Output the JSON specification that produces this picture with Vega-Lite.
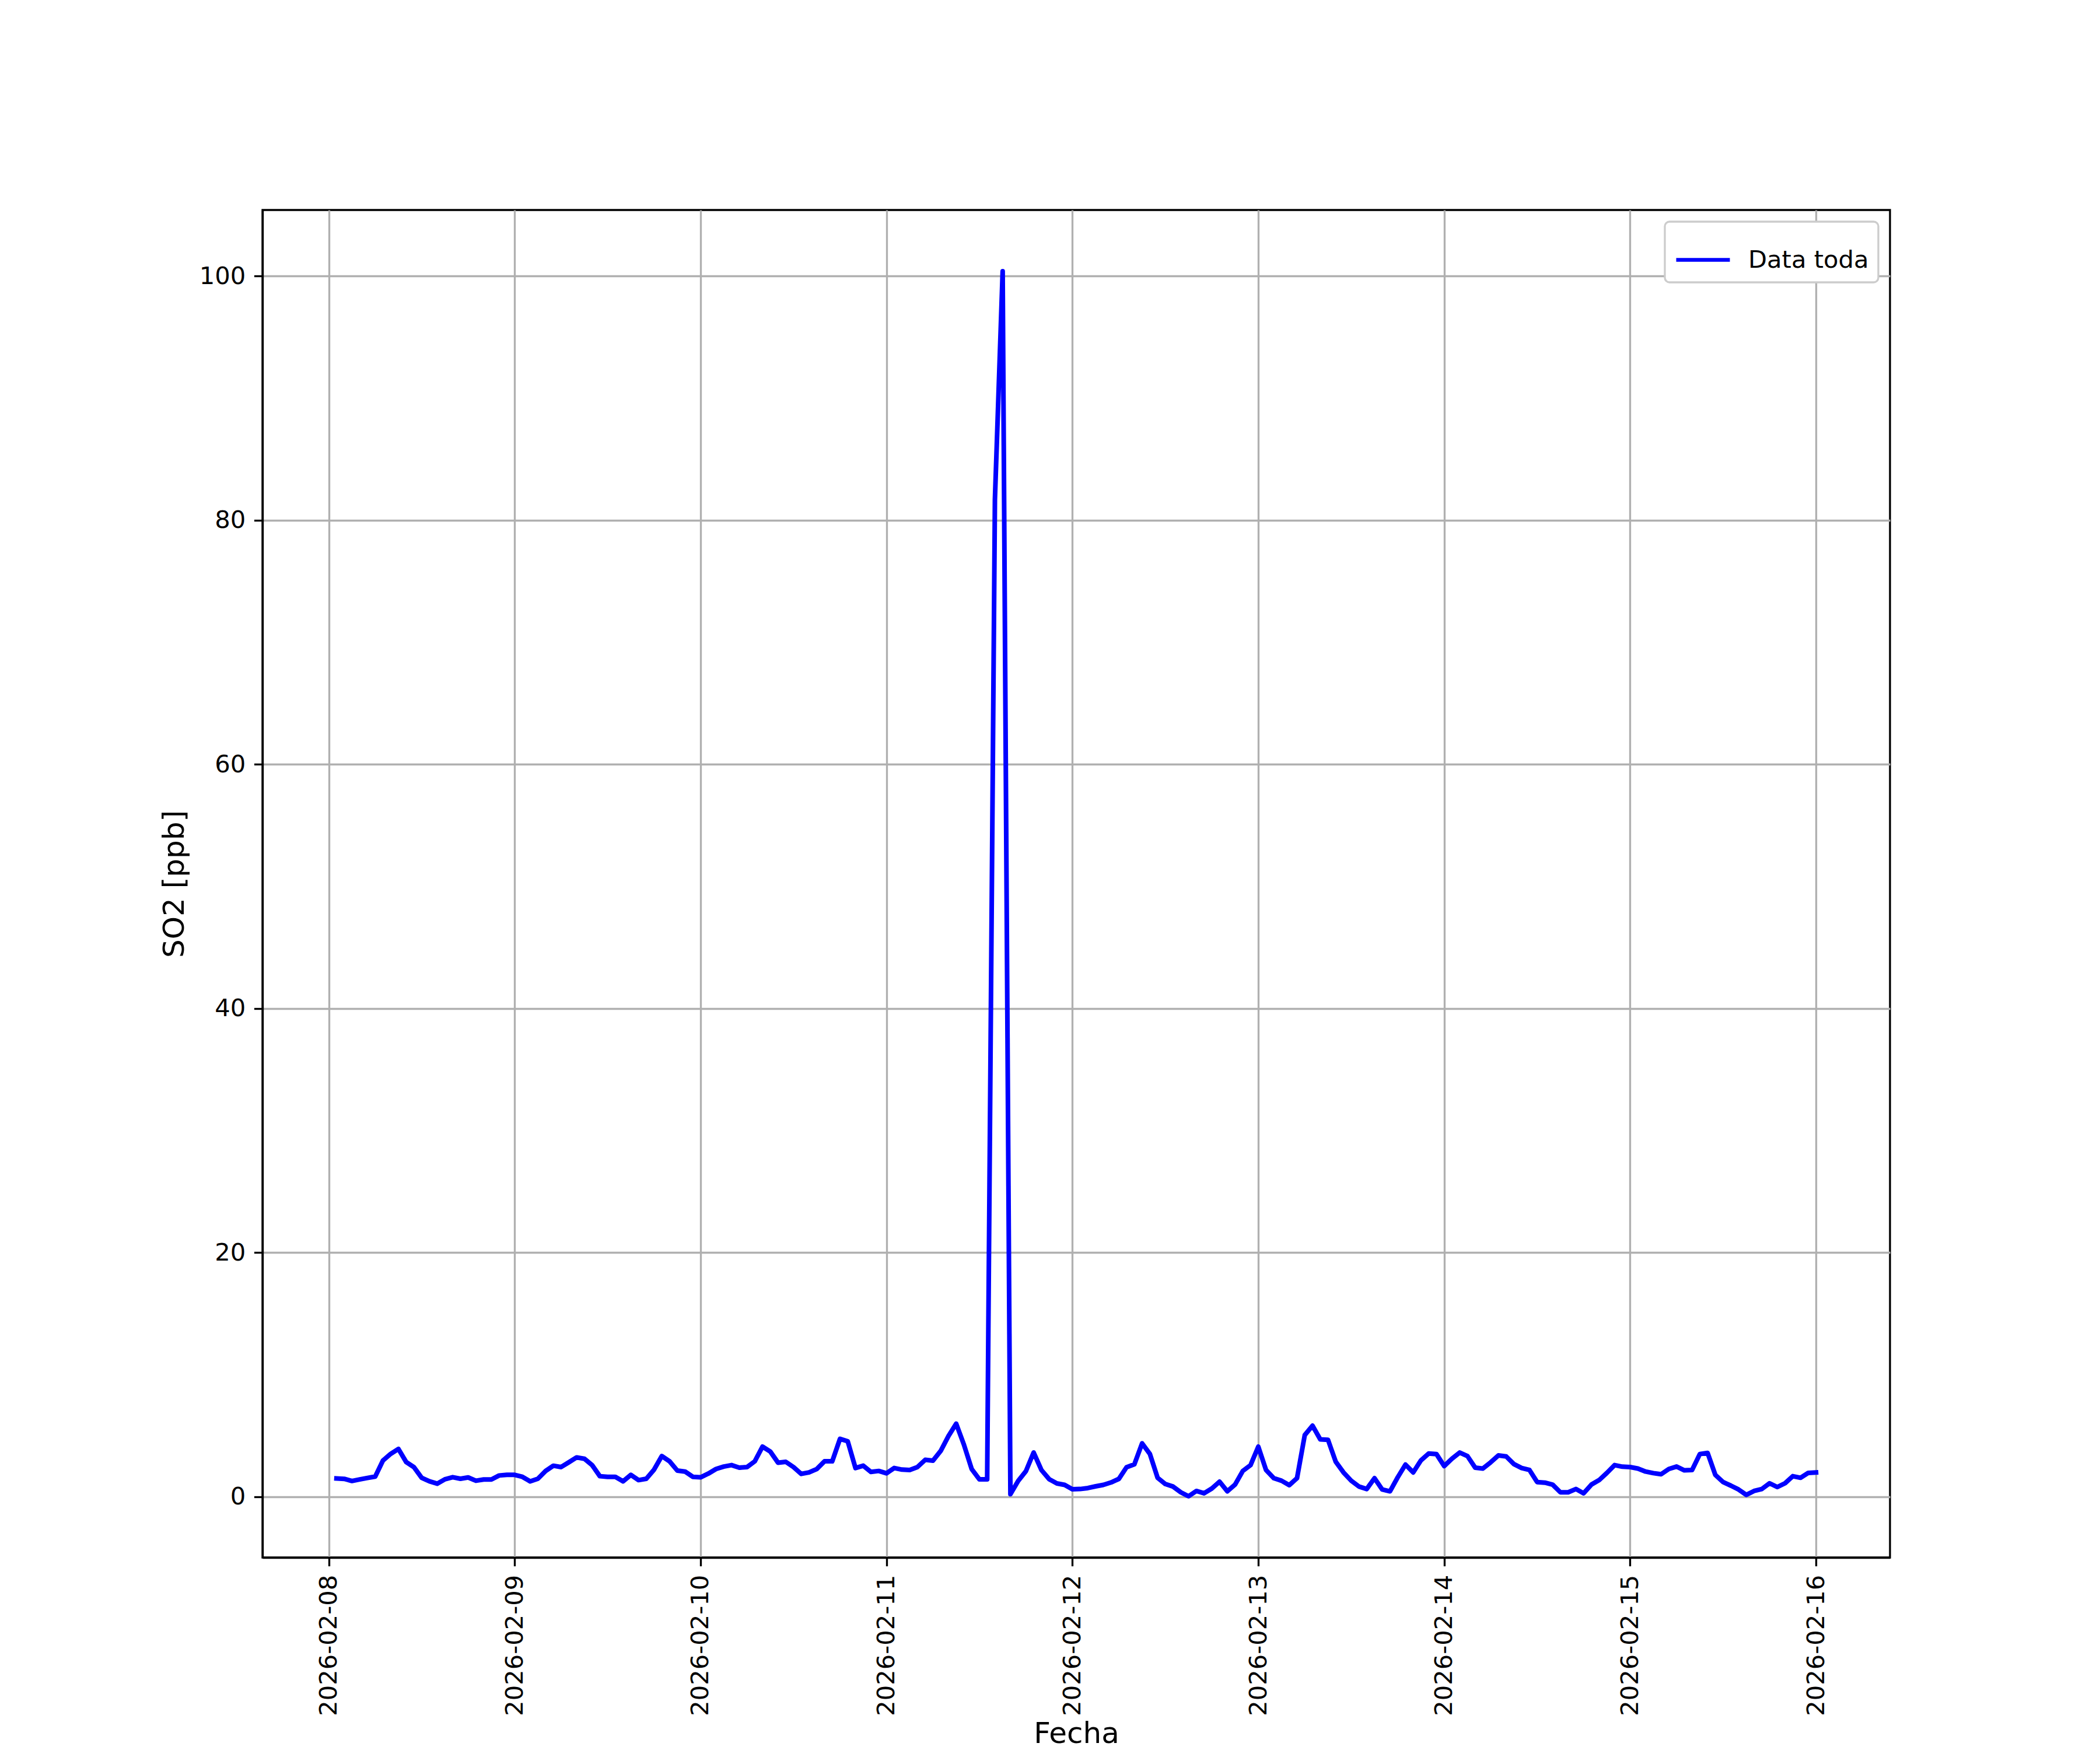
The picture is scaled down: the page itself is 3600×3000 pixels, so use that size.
{
  "$schema": "https://vega.github.io/schema/vega-lite/v6.json",
  "width": 2790,
  "height": 2310,
  "autosize": {"type": "none"},
  "padding": {"left": 450, "top": 360, "right": 360, "bottom": 330},
  "background": "white",
  "config": {
    "font": "DejaVu Sans",
    "view": {"stroke": "black", "strokeWidth": 3.33},
    "axis": {
      "labelFont": "DejaVu Sans", "labelFontSize": 41.67, "labelColor": "black", "labelLimit": 0,
      "titleFont": "DejaVu Sans", "titleFontSize": 50, "titleFontWeight": "normal", "titleColor": "black",
      "tickColor": "black", "tickWidth": 3.33, "tickSize": 14.6, "labelPadding": 14.6,
      "domainColor": "black", "domainWidth": 3.33,
      "gridColor": "#b0b0b0", "gridWidth": 3.33, "gridOpacity": 1,
      "titlePadding": 17
    },
    "legend": {"strokeWidth": 3.33, "labelLimit": 0}
  },
  "data": {"values": [
    {"t":"2026-02-08T01:00:00","v":1.51},{"t":"2026-02-08T02:00:00","v":1.47},{"t":"2026-02-08T03:00:00","v":1.3},{"t":"2026-02-08T04:00:00","v":1.43},{"t":"2026-02-08T05:00:00","v":1.55},{"t":"2026-02-08T06:00:00","v":1.66},{"t":"2026-02-08T07:00:00","v":2.97},{"t":"2026-02-08T08:00:00","v":3.52},{"t":"2026-02-08T09:00:00","v":3.92},{"t":"2026-02-08T10:00:00","v":2.85},{"t":"2026-02-08T11:00:00","v":2.43},{"t":"2026-02-08T12:00:00","v":1.56},{"t":"2026-02-08T13:00:00","v":1.27},{"t":"2026-02-08T14:00:00","v":1.08},{"t":"2026-02-08T15:00:00","v":1.44},{"t":"2026-02-08T16:00:00","v":1.61},{"t":"2026-02-08T17:00:00","v":1.48},{"t":"2026-02-08T18:00:00","v":1.59},{"t":"2026-02-08T19:00:00","v":1.32},{"t":"2026-02-08T20:00:00","v":1.42},{"t":"2026-02-08T21:00:00","v":1.42},{"t":"2026-02-08T22:00:00","v":1.75},{"t":"2026-02-08T23:00:00","v":1.8},
    {"t":"2026-02-09T00:00:00","v":1.8},{"t":"2026-02-09T01:00:00","v":1.64},{"t":"2026-02-09T02:00:00","v":1.27},{"t":"2026-02-09T03:00:00","v":1.48},{"t":"2026-02-09T04:00:00","v":2.12},{"t":"2026-02-09T05:00:00","v":2.55},{"t":"2026-02-09T06:00:00","v":2.44},{"t":"2026-02-09T07:00:00","v":2.83},{"t":"2026-02-09T08:00:00","v":3.23},{"t":"2026-02-09T09:00:00","v":3.12},{"t":"2026-02-09T10:00:00","v":2.6},{"t":"2026-02-09T11:00:00","v":1.69},{"t":"2026-02-09T12:00:00","v":1.64},{"t":"2026-02-09T13:00:00","v":1.64},{"t":"2026-02-09T14:00:00","v":1.27},{"t":"2026-02-09T15:00:00","v":1.8},{"t":"2026-02-09T16:00:00","v":1.37},{"t":"2026-02-09T17:00:00","v":1.48},{"t":"2026-02-09T18:00:00","v":2.23},{"t":"2026-02-09T19:00:00","v":3.34},{"t":"2026-02-09T20:00:00","v":2.91},{"t":"2026-02-09T21:00:00","v":2.15},{"t":"2026-02-09T22:00:00","v":2.07},{"t":"2026-02-09T23:00:00","v":1.64},
    {"t":"2026-02-10T00:00:00","v":1.6},{"t":"2026-02-10T01:00:00","v":1.9},{"t":"2026-02-10T02:00:00","v":2.28},{"t":"2026-02-10T03:00:00","v":2.48},{"t":"2026-02-10T04:00:00","v":2.6},{"t":"2026-02-10T05:00:00","v":2.39},{"t":"2026-02-10T06:00:00","v":2.44},{"t":"2026-02-10T07:00:00","v":2.91},{"t":"2026-02-10T08:00:00","v":4.11},{"t":"2026-02-10T09:00:00","v":3.71},{"t":"2026-02-10T10:00:00","v":2.8},{"t":"2026-02-10T11:00:00","v":2.87},{"t":"2026-02-10T12:00:00","v":2.44},{"t":"2026-02-10T13:00:00","v":1.88},{"t":"2026-02-10T14:00:00","v":2.0},{"t":"2026-02-10T15:00:00","v":2.28},{"t":"2026-02-10T16:00:00","v":2.91},{"t":"2026-02-10T17:00:00","v":2.91},{"t":"2026-02-10T18:00:00","v":4.75},{"t":"2026-02-10T19:00:00","v":4.55},{"t":"2026-02-10T20:00:00","v":2.36},{"t":"2026-02-10T21:00:00","v":2.55},{"t":"2026-02-10T22:00:00","v":2.04},{"t":"2026-02-10T23:00:00","v":2.12},
    {"t":"2026-02-11T00:00:00","v":1.93},{"t":"2026-02-11T01:00:00","v":2.36},{"t":"2026-02-11T02:00:00","v":2.23},{"t":"2026-02-11T03:00:00","v":2.2},{"t":"2026-02-11T04:00:00","v":2.44},{"t":"2026-02-11T05:00:00","v":3.03},{"t":"2026-02-11T06:00:00","v":2.96},{"t":"2026-02-11T07:00:00","v":3.76},{"t":"2026-02-11T08:00:00","v":4.98},{"t":"2026-02-11T09:00:00","v":5.99},{"t":"2026-02-11T10:00:00","v":4.27},{"t":"2026-02-11T11:00:00","v":2.28},{"t":"2026-02-11T12:00:00","v":1.43},{"t":"2026-02-11T13:00:00","v":1.43},{"t":"2026-02-11T14:00:00","v":81.7},{"t":"2026-02-11T15:00:00","v":100.4},{"t":"2026-02-11T16:00:00","v":0.22},{"t":"2026-02-11T17:00:00","v":1.3},{"t":"2026-02-11T18:00:00","v":2.1},{"t":"2026-02-11T19:00:00","v":3.63},{"t":"2026-02-11T20:00:00","v":2.2},{"t":"2026-02-11T21:00:00","v":1.45},{"t":"2026-02-11T22:00:00","v":1.1},{"t":"2026-02-11T23:00:00","v":0.98},
    {"t":"2026-02-12T00:00:00","v":0.62},{"t":"2026-02-12T01:00:00","v":0.64},{"t":"2026-02-12T02:00:00","v":0.72},{"t":"2026-02-12T03:00:00","v":0.86},{"t":"2026-02-12T04:00:00","v":0.98},{"t":"2026-02-12T05:00:00","v":1.18},{"t":"2026-02-12T06:00:00","v":1.47},{"t":"2026-02-12T07:00:00","v":2.43},{"t":"2026-02-12T08:00:00","v":2.66},{"t":"2026-02-12T09:00:00","v":4.38},{"t":"2026-02-12T10:00:00","v":3.52},{"t":"2026-02-12T11:00:00","v":1.56},{"t":"2026-02-12T12:00:00","v":1.05},{"t":"2026-02-12T13:00:00","v":0.84},{"t":"2026-02-12T14:00:00","v":0.37},{"t":"2026-02-12T15:00:00","v":0.05},{"t":"2026-02-12T16:00:00","v":0.48},{"t":"2026-02-12T17:00:00","v":0.29},{"t":"2026-02-12T18:00:00","v":0.68},{"t":"2026-02-12T19:00:00","v":1.24},{"t":"2026-02-12T20:00:00","v":0.45},{"t":"2026-02-12T21:00:00","v":1.0},{"t":"2026-02-12T22:00:00","v":2.12},{"t":"2026-02-12T23:00:00","v":2.6},
    {"t":"2026-02-13T00:00:00","v":4.11},{"t":"2026-02-13T01:00:00","v":2.2},{"t":"2026-02-13T02:00:00","v":1.53},{"t":"2026-02-13T03:00:00","v":1.32},{"t":"2026-02-13T04:00:00","v":0.96},{"t":"2026-02-13T05:00:00","v":1.53},{"t":"2026-02-13T06:00:00","v":5.06},{"t":"2026-02-13T07:00:00","v":5.83},{"t":"2026-02-13T08:00:00","v":4.71},{"t":"2026-02-13T09:00:00","v":4.67},{"t":"2026-02-13T10:00:00","v":2.87},{"t":"2026-02-13T11:00:00","v":2.0},{"t":"2026-02-13T12:00:00","v":1.32},{"t":"2026-02-13T13:00:00","v":0.84},{"t":"2026-02-13T14:00:00","v":0.64},{"t":"2026-02-13T15:00:00","v":1.53},{"t":"2026-02-13T16:00:00","v":0.6},{"t":"2026-02-13T17:00:00","v":0.45},{"t":"2026-02-13T18:00:00","v":1.6},{"t":"2026-02-13T19:00:00","v":2.64},{"t":"2026-02-13T20:00:00","v":2.0},{"t":"2026-02-13T21:00:00","v":2.99},{"t":"2026-02-13T22:00:00","v":3.55},{"t":"2026-02-13T23:00:00","v":3.5},
    {"t":"2026-02-14T00:00:00","v":2.52},{"t":"2026-02-14T01:00:00","v":3.12},{"t":"2026-02-14T02:00:00","v":3.63},{"t":"2026-02-14T03:00:00","v":3.34},{"t":"2026-02-14T04:00:00","v":2.39},{"t":"2026-02-14T05:00:00","v":2.32},{"t":"2026-02-14T06:00:00","v":2.83},{"t":"2026-02-14T07:00:00","v":3.39},{"t":"2026-02-14T08:00:00","v":3.31},{"t":"2026-02-14T09:00:00","v":2.68},{"t":"2026-02-14T10:00:00","v":2.36},{"t":"2026-02-14T11:00:00","v":2.2},{"t":"2026-02-14T12:00:00","v":1.21},{"t":"2026-02-14T13:00:00","v":1.16},{"t":"2026-02-14T14:00:00","v":1.0},{"t":"2026-02-14T15:00:00","v":0.37},{"t":"2026-02-14T16:00:00","v":0.37},{"t":"2026-02-14T17:00:00","v":0.64},{"t":"2026-02-14T18:00:00","v":0.29},{"t":"2026-02-14T19:00:00","v":1.0},{"t":"2026-02-14T20:00:00","v":1.37},{"t":"2026-02-14T21:00:00","v":1.96},{"t":"2026-02-14T22:00:00","v":2.6},{"t":"2026-02-14T23:00:00","v":2.47},
    {"t":"2026-02-15T00:00:00","v":2.44},{"t":"2026-02-15T01:00:00","v":2.32},{"t":"2026-02-15T02:00:00","v":2.07},{"t":"2026-02-15T03:00:00","v":1.94},{"t":"2026-02-15T04:00:00","v":1.85},{"t":"2026-02-15T05:00:00","v":2.28},{"t":"2026-02-15T06:00:00","v":2.48},{"t":"2026-02-15T07:00:00","v":2.17},{"t":"2026-02-15T08:00:00","v":2.2},{"t":"2026-02-15T09:00:00","v":3.5},{"t":"2026-02-15T10:00:00","v":3.6},{"t":"2026-02-15T11:00:00","v":1.8},{"t":"2026-02-15T12:00:00","v":1.21},{"t":"2026-02-15T13:00:00","v":0.92},{"t":"2026-02-15T14:00:00","v":0.6},{"t":"2026-02-15T15:00:00","v":0.16},{"t":"2026-02-15T16:00:00","v":0.48},{"t":"2026-02-15T17:00:00","v":0.64},{"t":"2026-02-15T18:00:00","v":1.11},{"t":"2026-02-15T19:00:00","v":0.8},{"t":"2026-02-15T20:00:00","v":1.11},{"t":"2026-02-15T21:00:00","v":1.69},{"t":"2026-02-15T22:00:00","v":1.56},{"t":"2026-02-15T23:00:00","v":1.96},
    {"t":"2026-02-16T00:00:00","v":2.0}
  ]},
  "mark": {"type": "line", "strokeWidth": 8, "strokeCap": "square", "strokeJoin": "round"},
  "encoding": {
    "x": {
      "field": "t", "type": "temporal", "title": "Fecha",
      "scale": {"domain": [{"year": 2026, "month": 2, "date": 7, "hours": 15, "minutes": 27}, {"year": 2026, "month": 2, "date": 16, "hours": 9, "minutes": 33}], "nice": false},
      "axis": {
        "format": "%Y-%m-%d", "labelAngle": -90, "labelOverlap": false, "labelFlush": false, "labelLimit": 0,
        "titleY": 317, "titleBaseline": "alphabetic",
        "values": [
          {"year": 2026, "month": 2, "date": 8}, {"year": 2026, "month": 2, "date": 9}, {"year": 2026, "month": 2, "date": 10},
          {"year": 2026, "month": 2, "date": 11}, {"year": 2026, "month": 2, "date": 12}, {"year": 2026, "month": 2, "date": 13},
          {"year": 2026, "month": 2, "date": 14}, {"year": 2026, "month": 2, "date": 15}, {"year": 2026, "month": 2, "date": 16}
        ]
      }
    },
    "y": {
      "field": "v", "type": "quantitative", "title": "SO2 [ppb]",
      "scale": {"domain": [-4.97, 105.42], "nice": false, "zero": false},
      "axis": {"values": [0, 20, 40, 60, 80, 100], "format": "d", "labelFlush": false}
    },
    "color": {
      "datum": "Data toda",
      "scale": {"range": ["#0000ff"]},
      "legend": {
        "title": null, "orient": "top-right", "offset": 20, "labelLimit": 0,
        "symbolType": "stroke", "symbolSize": 8464, "symbolStrokeWidth": 6.5,
        "labelFont": "DejaVu Sans", "labelFontSize": 41.67, "labelColor": "black", "labelOffset": 28,
        "fillColor": "white", "strokeColor": "#cccccc", "cornerRadius": 8, "padding": 16
      }
    }
  }
}
